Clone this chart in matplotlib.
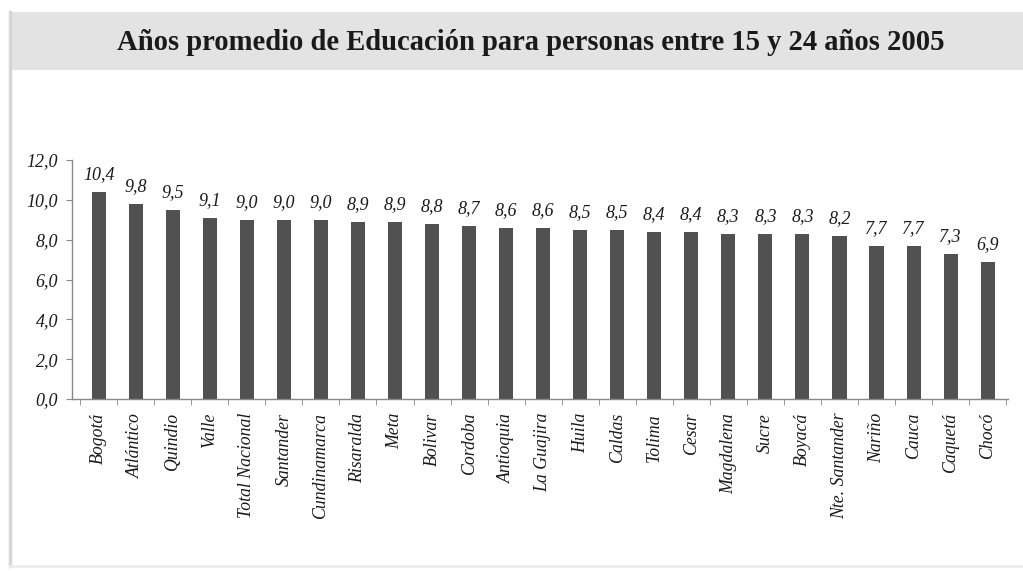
import matplotlib.pyplot as plt
from matplotlib.patches import Rectangle
from matplotlib.lines import Line2D

departamentos = ["Bogotá", "Atlántico", "Quindio", "Valle", "Total Nacional",
                 "Santander", "Cundinamarca", "Risaralda", "Meta", "Bolivar",
                 "Cordoba", "Antioquia", "La Guajira", "Huila", "Caldas",
                 "Tolima", "Cesar", "Magdalena", "Sucre", "Boyacá",
                 "Nte. Santander", "Nariño", "Cauca", "Caquetá", "Chocó"]
anios = [10.4, 9.8, 9.5, 9.1, 9.0, 9.0, 9.0, 8.9, 8.9, 8.8, 8.7, 8.6, 8.6,
         8.5, 8.5, 8.4, 8.4, 8.3, 8.3, 8.3, 8.2, 7.7, 7.7, 7.3, 6.9]
yticks = [0, 2, 4, 6, 8, 10, 12]

serif = ["Liberation Serif", "DejaVu Serif"]
plt.rcParams["font.family"] = serif

W, H = 1023, 571
fig = plt.figure(figsize=(W / 100, H / 100), dpi=100)

# gray title band and thin frame on the left
fig.patches.append(Rectangle((10 / W, 1 - 70 / H), 1 - 10 / W, 58 / H,
                             transform=fig.transFigure, facecolor="#e3e3e3",
                             edgecolor="none", zorder=0))
fig.lines.append(Line2D([10 / W, 10 / W], [1 - 12 / H, 1 - 566 / H],
                        transform=fig.transFigure, color="#d6d6d6", lw=2.5))
fig.lines.append(Line2D([10 / W, 1], [1 - 566 / H, 1 - 566 / H],
                        transform=fig.transFigure, color="#ececec", lw=2))

fig.text(0.519, 1 - 42 / H,
         "Años promedio de Educación para personas entre 15 y 24 años 2005",
         ha="center", va="center", fontsize=20.6, fontweight="bold",
         color="#1a1a1a")

ax = fig.add_axes([72 / W, 1 - 399 / H, (1008 - 72) / W, (399 - 160) / H])
x = range(len(anios))
bars = ax.bar(x, anios, width=0.38, color="#515151", zorder=2)

for xi, v in zip(x, anios):
    ax.annotate(f"{v:.1f}".replace(".", ","), (xi, v), xytext=(0, 6),
                textcoords="offset points", ha="center", va="bottom",
                fontsize=13, style="italic", color="#1a1a1a")

ax.set_ylim(0, 12)
ax.set_xlim(-0.72, 24.55)
ax.set_yticks(yticks)
ax.set_yticklabels([f"{t:.1f}".replace(".", ",") for t in yticks])
ax.set_xticks(list(x))
ax.set_xticklabels(departamentos, rotation=90)
for lab in ax.get_yticklabels():
    lab.set_fontstyle("italic")
    lab.set_fontsize(13)
    lab.set_color("#1a1a1a")
for lab in ax.get_xticklabels():
    lab.set_fontstyle("italic")
    lab.set_fontsize(12.8)
    lab.set_color("#1a1a1a")
ax.tick_params(axis="x", length=0, pad=10)
ax.set_xticks([i + 0.5 for i in range(-1, len(anios))], minor=True)
ax.tick_params(axis="x", which="minor", length=4, color="#888888")
ax.tick_params(axis="y", length=4, color="#888888", pad=6)

for side in ["top", "right"]:
    ax.spines[side].set_visible(False)
for side in ["left", "bottom"]:
    ax.spines[side].set_color("#888888")
    ax.spines[side].set_linewidth(1)

fig.savefig("out.png", dpi=100)
